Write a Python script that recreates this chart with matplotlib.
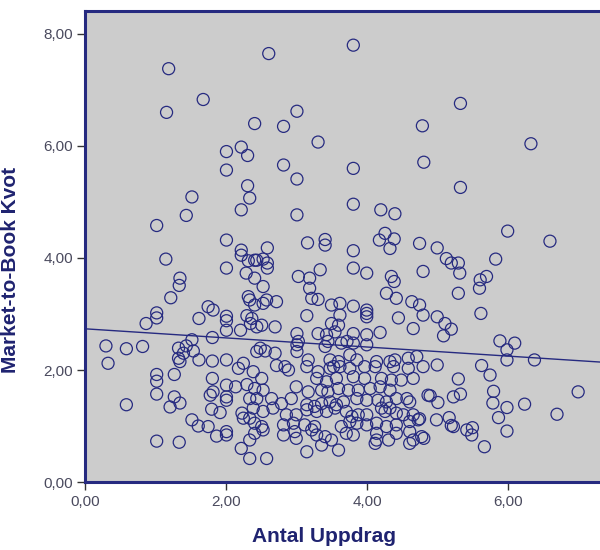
import numpy as np
import matplotlib
matplotlib.use("Agg")
import matplotlib.pyplot as plt
from matplotlib.ticker import FuncFormatter

# Number of assignments (x) and market-to-book ratio (y) per observation
antal_uppdrag = [
    1.18, 2.60, 3.80, 1.67, 1.15, 3.00, 2.40, 2.81, 4.78, 5.32, 3.30, 6.32,
    2.00, 2.21, 2.30, 2.00, 2.81, 3.80, 4.80, 3.00, 2.30, 5.32, 2.33, 1.51,
    3.80, 2.21, 4.19, 4.39, 1.43, 3.00, 1.01, 5.99, 4.25, 2.00, 4.17, 4.38,
    3.40, 6.59, 3.15, 4.74, 3.40, 2.21, 2.58, 3.80, 4.32, 4.99,
    2.21, 1.14, 2.31, 2.40, 2.00, 2.28, 2.40, 1.34, 1.33, 1.21, 2.31, 2.40,
    1.74, 1.81, 1.01, 1.01, 0.86, 1.61, 2.00, 2.00, 2.29, 2.34, 2.00, 2.20,
    2.43, 1.80, 1.51, 0.29, 0.58, 0.81, 1.32, 1.43, 1.39, 1.53, 1.32, 1.34,
    1.61, 1.80, 2.00, 0.32, 2.24, 2.43,
    1.01, 1.01, 1.26, 1.01, 0.58, 1.26, 1.34, 1.20, 1.51, 1.60, 1.74, 1.86,
    2.00, 2.00, 1.01, 1.33, 1.80, 2.00, 2.13, 2.29, 1.77, 1.81, 2.00, 2.00,
    1.79, 1.91, 2.22, 2.24, 2.21, 2.17, 2.38,
    2.43, 2.52, 2.58, 2.58, 3.80, 3.99, 3.33, 3.02, 3.18, 4.34, 4.38, 4.79,
    2.52, 3.18, 4.27, 4.41, 3.21, 3.30, 2.33, 2.57, 2.71, 2.52, 3.49, 3.61,
    3.80, 3.99, 3.99, 3.99, 4.63, 4.74, 4.79, 4.44, 4.65, 3.14, 3.61, 3.49,
    3.59, 3.54, 2.50, 2.69, 2.36, 3.00, 3.02, 3.30, 3.42, 3.44, 3.40, 3.80,
    3.80, 3.99, 3.99, 4.18, 3.63, 3.71, 2.48, 2.55, 2.69, 3.00, 3.00, 3.16,
    3.47, 3.59, 3.52, 3.75, 3.85, 4.13, 4.32, 4.39, 4.58, 4.70, 2.83,
    5.12, 5.19, 5.29, 5.31, 5.82, 5.60, 5.69, 5.59, 5.29, 4.99, 5.10, 5.19,
    5.08, 5.61, 5.88, 6.09, 5.98, 5.98, 6.37, 4.99, 5.62,
    5.74, 5.29, 4.89, 5.00, 5.22, 5.32, 5.79, 5.78, 5.98, 6.23, 5.86, 6.99,
    6.69, 4.74, 4.80, 4.98, 5.16, 5.19, 5.22, 5.41, 5.49, 5.48, 5.98, 5.66,
    2.71, 2.88, 3.14, 3.30, 3.47, 3.61, 3.75, 3.96, 4.11, 4.37, 4.58, 4.79,
    2.50, 2.99, 3.28, 3.42, 3.56, 3.80, 3.96, 4.20, 4.34, 4.48, 4.65,
    2.40, 2.52, 3.16, 3.35, 3.44, 3.59, 3.73, 3.87, 4.04, 4.18, 4.32, 4.86,
    2.33, 2.43, 2.64, 2.78, 2.92, 3.14, 3.25, 3.35, 3.47, 3.56, 3.66, 3.85,
    3.99, 4.15, 4.27, 4.41, 4.56, 4.60,
    2.38, 2.52, 2.66, 2.85, 2.99, 3.14, 3.28, 3.42, 3.54, 3.70, 3.78, 3.87,
    3.99, 4.20, 4.25, 4.32, 4.41, 4.51, 4.65,
    2.33, 2.40, 2.50, 2.81, 2.95, 3.11, 3.25, 3.63, 3.75, 3.85, 3.99, 4.13,
    4.27, 4.41, 4.60, 4.72,
    2.52, 2.81, 2.97, 2.99, 3.21, 3.28, 3.40, 3.49, 3.70, 3.80, 4.13, 4.13,
    4.30, 4.41, 4.60, 4.65, 4.77,
    2.33, 2.40, 3.14, 3.35, 3.59, 4.11, 4.60, 2.33, 2.57,
]

market_to_book = [
    7.38, 7.65, 7.80, 6.83, 6.60, 6.62, 6.40, 6.35, 6.36, 6.76, 6.07, 6.04,
    5.90, 5.98, 5.83, 5.57, 5.66, 5.60, 5.71, 5.41, 5.29, 5.26, 5.07, 5.09,
    4.96, 4.86, 4.86, 4.79, 4.76, 4.77, 4.58, 4.48, 4.44, 4.32, 4.32, 4.34,
    4.33, 4.30, 4.27, 4.26, 4.23, 4.14, 4.18, 4.13, 4.17, 4.18,
    4.05, 3.98, 3.95, 3.96, 3.82, 3.73, 3.64, 3.64, 3.51, 3.29, 3.31, 3.16,
    3.13, 3.07, 3.02, 2.93, 2.83, 2.92, 2.96, 2.88, 2.97, 2.83, 2.71, 2.71,
    2.77, 2.58, 2.54, 2.43, 2.38, 2.42, 2.39, 2.43, 2.30, 2.34, 2.21, 2.15,
    2.18, 2.16, 2.18, 2.12, 2.12, 2.33,
    1.92, 1.80, 1.92, 1.57, 1.38, 1.52, 1.41, 1.34, 1.11, 1.00, 0.99, 0.82,
    0.90, 0.84, 0.73, 0.71, 1.85, 1.73, 1.70, 1.74, 1.55, 1.61, 1.52, 1.46,
    1.30, 1.24, 1.23, 1.14, 0.60, 2.03, 1.97,
    3.96, 3.98, 3.91, 3.82, 3.82, 3.73, 3.79, 3.67, 3.64, 3.67, 3.58, 3.76,
    3.49, 3.46, 3.37, 3.28, 3.28, 3.26, 3.25, 3.25, 3.22, 3.19, 3.16, 3.19,
    3.14, 3.07, 3.01, 2.95, 3.22, 3.16, 2.98, 2.93, 2.74, 2.97, 2.98, 2.83,
    2.80, 2.68, 2.80, 2.77, 2.92, 2.65, 2.51, 2.65, 2.63, 2.51, 2.42, 2.65,
    2.48, 2.63, 2.45, 2.67, 2.48, 2.51, 2.39, 2.34, 2.30, 2.45, 2.33, 2.18,
    2.18, 2.15, 2.06, 2.27, 2.18, 2.15, 2.15, 2.18, 2.21, 2.24, 2.06,
    3.99, 3.91, 3.91, 3.73, 3.98, 3.61, 3.67, 3.46, 3.37, 2.95, 2.83, 2.73,
    2.61, 3.01, 2.52, 2.48, 2.36, 2.18, 2.18, 2.09, 2.08,
    1.91, 1.84, 1.54, 1.42, 1.52, 1.57, 1.62, 1.41, 1.33, 1.39, 1.15, 1.61,
    1.21, 1.13, 0.78, 1.11, 1.15, 1.01, 0.99, 0.93, 0.97, 0.84, 0.91, 0.63,
    2.08, 2.00, 2.06, 1.97, 2.03, 2.06, 2.03, 2.06, 2.06, 2.06, 2.03, 2.06,
    1.85, 1.70, 1.85, 1.79, 1.85, 1.88, 1.85, 1.85, 1.82, 1.82, 1.85,
    1.67, 1.64, 1.61, 1.64, 1.61, 1.67, 1.64, 1.64, 1.67, 1.70, 1.64, 1.55,
    1.49, 1.49, 1.49, 1.40, 1.49, 1.38, 1.35, 1.40, 1.43, 1.38, 1.43, 1.49,
    1.46, 1.46, 1.43, 1.49, 1.49, 1.43,
    1.32, 1.26, 1.32, 1.20, 1.20, 1.29, 1.26, 1.26, 1.32, 1.26, 1.17, 1.20,
    1.20, 1.32, 1.26, 1.32, 1.23, 1.20, 1.20,
    1.14, 1.05, 0.99, 1.02, 1.05, 1.02, 0.99, 0.99, 1.08, 1.05, 1.02, 1.05,
    0.99, 1.02, 1.08, 1.11,
    0.93, 0.84, 0.90, 0.78, 0.93, 0.84, 0.81, 0.75, 0.87, 0.84, 0.87, 0.75,
    0.75, 0.87, 0.90, 0.75, 0.81,
    0.75, 0.87, 0.54, 0.66, 0.57, 0.69, 0.69, 0.42, 0.42,
]

x_ticks = [0, 2, 4, 6]
y_ticks = [0, 2, 4, 6, 8]
x_label = "Antal Uppdrag"
y_label = "Market-to-Book Kvot"

navy = "#262a80"
panel = "#cccccc"

plt.rcParams["font.family"] = ["Liberation Sans", "DejaVu Sans"]

fig = plt.figure(figsize=(6.0, 5.5), dpi=100)
ax = fig.add_axes([0.1425, 0.1236, 0.8575, 0.8564])
ax.set_facecolor(panel)

x = np.array(antal_uppdrag)
y = np.array(market_to_book)

ax.scatter(x, y, s=75, facecolors="none", edgecolors=navy, linewidths=0.9,
           zorder=3)

# Least-squares fit line across the full x range
slope, intercept = np.polyfit(x, y, 1)
xlim = (0, 7.30)
xs = np.array(xlim)
ax.plot(xs, intercept + slope * xs, color=navy, linewidth=1.0, zorder=4)

ax.set_xlim(*xlim)
ax.set_ylim(0, 8.41)
ax.set_xticks(x_ticks)
ax.set_yticks(y_ticks)
fmt = FuncFormatter(lambda v, _: f"{v:.2f}".replace(".", ","))
ax.xaxis.set_major_formatter(fmt)
ax.yaxis.set_major_formatter(fmt)
ax.tick_params(axis="both", direction="out", length=6, width=1.0,
               color="#333333", labelsize=11, labelcolor="#4a4a5e", pad=3)

for side in ("left", "bottom", "top"):
    ax.spines[side].set_color(navy)
    ax.spines[side].set_linewidth(2.2)
ax.spines["right"].set_visible(False)

ax.set_xlabel(x_label, fontsize=15, fontweight="bold", color="#1f2370")
ax.set_ylabel(y_label, fontsize=15, fontweight="bold", color="#1f2370")
ax.xaxis.set_label_coords(0.464, -0.095)
ax.yaxis.set_label_coords(-0.128, 0.45)

fig.savefig("out.png", dpi=100)
